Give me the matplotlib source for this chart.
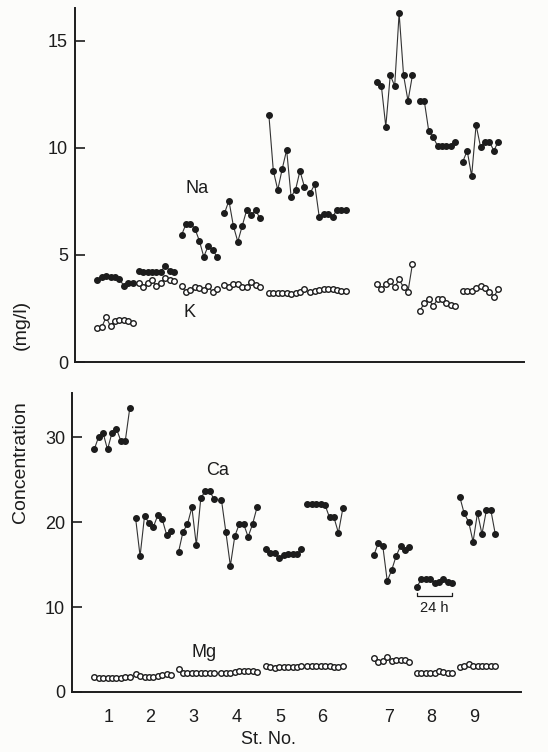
import matplotlib
matplotlib.use("Agg")
import matplotlib.pyplot as plt

# --- data (9 samples per station, every 3 h over 24 h) ---
stations = ["1", "2", "3", "4", "5", "6", "7", "8", "9"]
station_start = [15, 43, 72, 101, 131, 159, 204, 233, 262]   # hours on the common time axis
sample_hours = [0, 3, 6, 9, 12, 15, 18, 21, 24]

na = [
    [3.83, 3.99, 4.02, 3.99, 3.99, 3.89, 3.55, 3.71, 3.68],
    [4.27, 4.22, 4.20, 4.20, 4.20, 4.22, 4.50, 4.27, 4.20],
    [5.93, 6.45, 6.45, 6.23, 5.67, 4.92, 5.42, 5.23, 4.92],
    [6.95, 7.54, 6.36, 5.62, 6.36, 7.10, 6.87, 7.10, 6.71],
    [11.54, 8.94, 8.04, 9.02, 9.91, 7.73, 8.04, 8.93, 8.19],
    [7.91, 8.30, 6.79, 6.90, 6.90, 6.79, 7.10, 7.10, 7.10],
    [13.1, 12.9, 11.0, 13.4, 12.9, 16.3, 13.4, 12.2, 13.4],
    [12.2, 12.2, 10.8, 10.5, 10.1, 10.1, 10.1, 10.1, 10.3],
    [9.36, 9.87, 8.69, 11.07, 10.06, 10.3, 10.3, 9.87, 10.3],
]
k = [
    [1.57, 1.62, 2.09, 1.68, 1.93, 1.96, 1.96, 1.93, 1.84],
    [3.68, 3.52, 3.68, 3.83, 3.55, 3.71, 3.91, 3.83, 3.80],
    [3.55, 3.25, 3.35, 3.50, 3.45, 3.35, 3.55, 3.25, 3.40],
    [3.58, 3.49, 3.64, 3.64, 3.49, 3.52, 3.75, 3.60, 3.52],
    [3.24, 3.24, 3.24, 3.24, 3.21, 3.17, 3.21, 3.27, 3.39],
    [3.27, 3.33, 3.36, 3.43, 3.43, 3.40, 3.36, 3.32, 3.32],
    [3.63, 3.40, 3.63, 3.80, 3.49, 3.86, 3.49, 3.29, 4.58],
    [2.40, 2.74, 2.93, 2.62, 2.93, 2.93, 2.74, 2.66, 2.62],
    [3.33, 3.33, 3.33, 3.44, 3.55, 3.44, 3.29, 3.05, 3.40],
]
ca = [
    [28.55, 30.04, 30.5, 28.55, 30.5, 31.0, 29.56, 29.56, 33.38],
    [20.43, 16.0, 20.7, 19.92, 19.45, 20.82, 20.31, 18.47, 18.98],
    [16.5, 18.86, 19.76, 21.73, 17.29, 22.78, 23.68, 23.68, 22.67],
    [22.59, 18.78, 14.86, 18.35, 19.76, 19.76, 18.27, 19.76, 21.73],
    [16.78, 16.39, 16.31, 15.73, 16.12, 16.24, 16.24, 16.24, 16.78],
    [22.12, 22.12, 22.12, 22.12, 22.0, 20.55, 20.55, 18.74, 21.61],
    [16.12, 17.57, 17.18, 13.06, 14.35, 16.0, 17.18, 16.71, 17.1],
    [12.39, 13.25, 13.25, 13.25, 12.86, 12.94, 13.25, 12.94, 12.86],
    [22.98, 21.02, 20.04, 17.69, 21.1, 18.59, 21.41, 21.41, 18.59],
]
mg = [
    [1.75, 1.70, 1.70, 1.70, 1.70, 1.70, 1.70, 1.75, 1.75],
    [2.12, 1.88, 1.80, 1.80, 1.80, 1.88, 2.00, 2.08, 2.00],
    [2.67, 2.27, 2.20, 2.20, 2.20, 2.27, 2.27, 2.20, 2.20],
    [2.27, 2.27, 2.27, 2.39, 2.51, 2.51, 2.51, 2.51, 2.39],
    [3.06, 2.90, 2.86, 2.90, 2.98, 2.98, 2.98, 2.98, 3.06],
    [3.06, 3.06, 3.10, 3.10, 3.10, 3.06, 2.98, 2.90, 3.06],
    [3.96, 3.57, 3.69, 4.08, 3.69, 3.76, 3.76, 3.76, 3.57],
    [2.27, 2.20, 2.20, 2.20, 2.27, 2.47, 2.39, 2.27, 2.20],
    [2.98, 3.06, 3.29, 3.06, 3.06, 3.06, 3.06, 3.06, 3.10],
]

plt.rcParams["font.family"] = ["Liberation Sans", "DejaVu Sans"]
INK = "#1c1c1c"
BG = "#fcfcfa"

W, H = 548, 752
fig = plt.figure(figsize=(W / 100, H / 100), dpi=100, facecolor=BG)
ax1 = fig.add_axes([75 / W, 1 - 362 / H, 449 / W, 354 / H])
ax2 = fig.add_axes([72 / W, 1 - 692 / H, 449 / W, 299 / H])

xmax = 449 / 1.48


def draw(ax, series, filled):
    # one connected run of points per station
    for start, vals in zip(station_start, series):
        xs = [start + h for h in sample_hours]
        ax.plot(xs, vals, "-", color="#333333", lw=0.8, zorder=2)
        ax.plot(xs, vals, "o", ms=4.0, mew=1.0, mec=INK,
                mfc=INK if filled else "white", zorder=3)


draw(ax1, k, False)
draw(ax1, na, True)
draw(ax2, mg, False)
draw(ax2, ca, True)

for ax in (ax1, ax2):
    ax.set_facecolor("none")
    ax.set_xlim(0, xmax)
    for side in ("top", "right"):
        ax.spines[side].set_visible(False)
    for side in ("left", "bottom"):
        ax.spines[side].set_linewidth(1.4)
        ax.spines[side].set_color(INK)
    ax.tick_params(axis="y", direction="in", length=7, width=1.2,
                   pad=5, labelsize=13, colors=INK)

ax1.set_ylim(0, 16.54)
ax1.set_yticks([0, 5, 10, 15])
ax1.set_xticks([])

ax2.set_ylim(0, 35.2)
ax2.set_yticks([0, 10, 20, 30])
ax2.set_xticks([s + 10 for s in station_start], stations)
ax2.tick_params(axis="x", length=0, pad=12, labelsize=13, colors=INK)

ax1.text(82.4, 8.1, "Na", fontsize=13, color=INK, ha="center", va="center")
ax1.text(77.7, 2.3, "K", fontsize=13, color=INK, ha="center", va="center")
ax2.text(98.6, 26.1, "Ca", fontsize=13, color=INK, ha="center", va="center")
ax2.text(89.2, 4.7, "Mg", fontsize=13, color=INK, ha="center", va="center")

# 24 h scale bar under station 8
s8 = station_start[7]
ax2.plot([s8, s8, s8 + 24, s8 + 24], [11.65, 11.3, 11.3, 11.65],
         color=INK, lw=0.9)
ax2.text(s8 + 12, 9.9, "24 h", fontsize=10.5, color=INK, ha="center", va="center")

fig.text(21 / W, 1 - 462 / H, "Concentration", rotation=90, fontsize=14,
         color=INK, ha="center", va="center")
fig.text(21 / W, 1 - 325 / H, "(mg/l)", rotation=90, fontsize=14,
         color=INK, ha="center", va="center")
fig.text(268 / W, 1 - 740 / H, "St. No.", fontsize=13, color=INK,
         ha="center", va="center")

fig.savefig("out.png", dpi=100, facecolor=BG)
